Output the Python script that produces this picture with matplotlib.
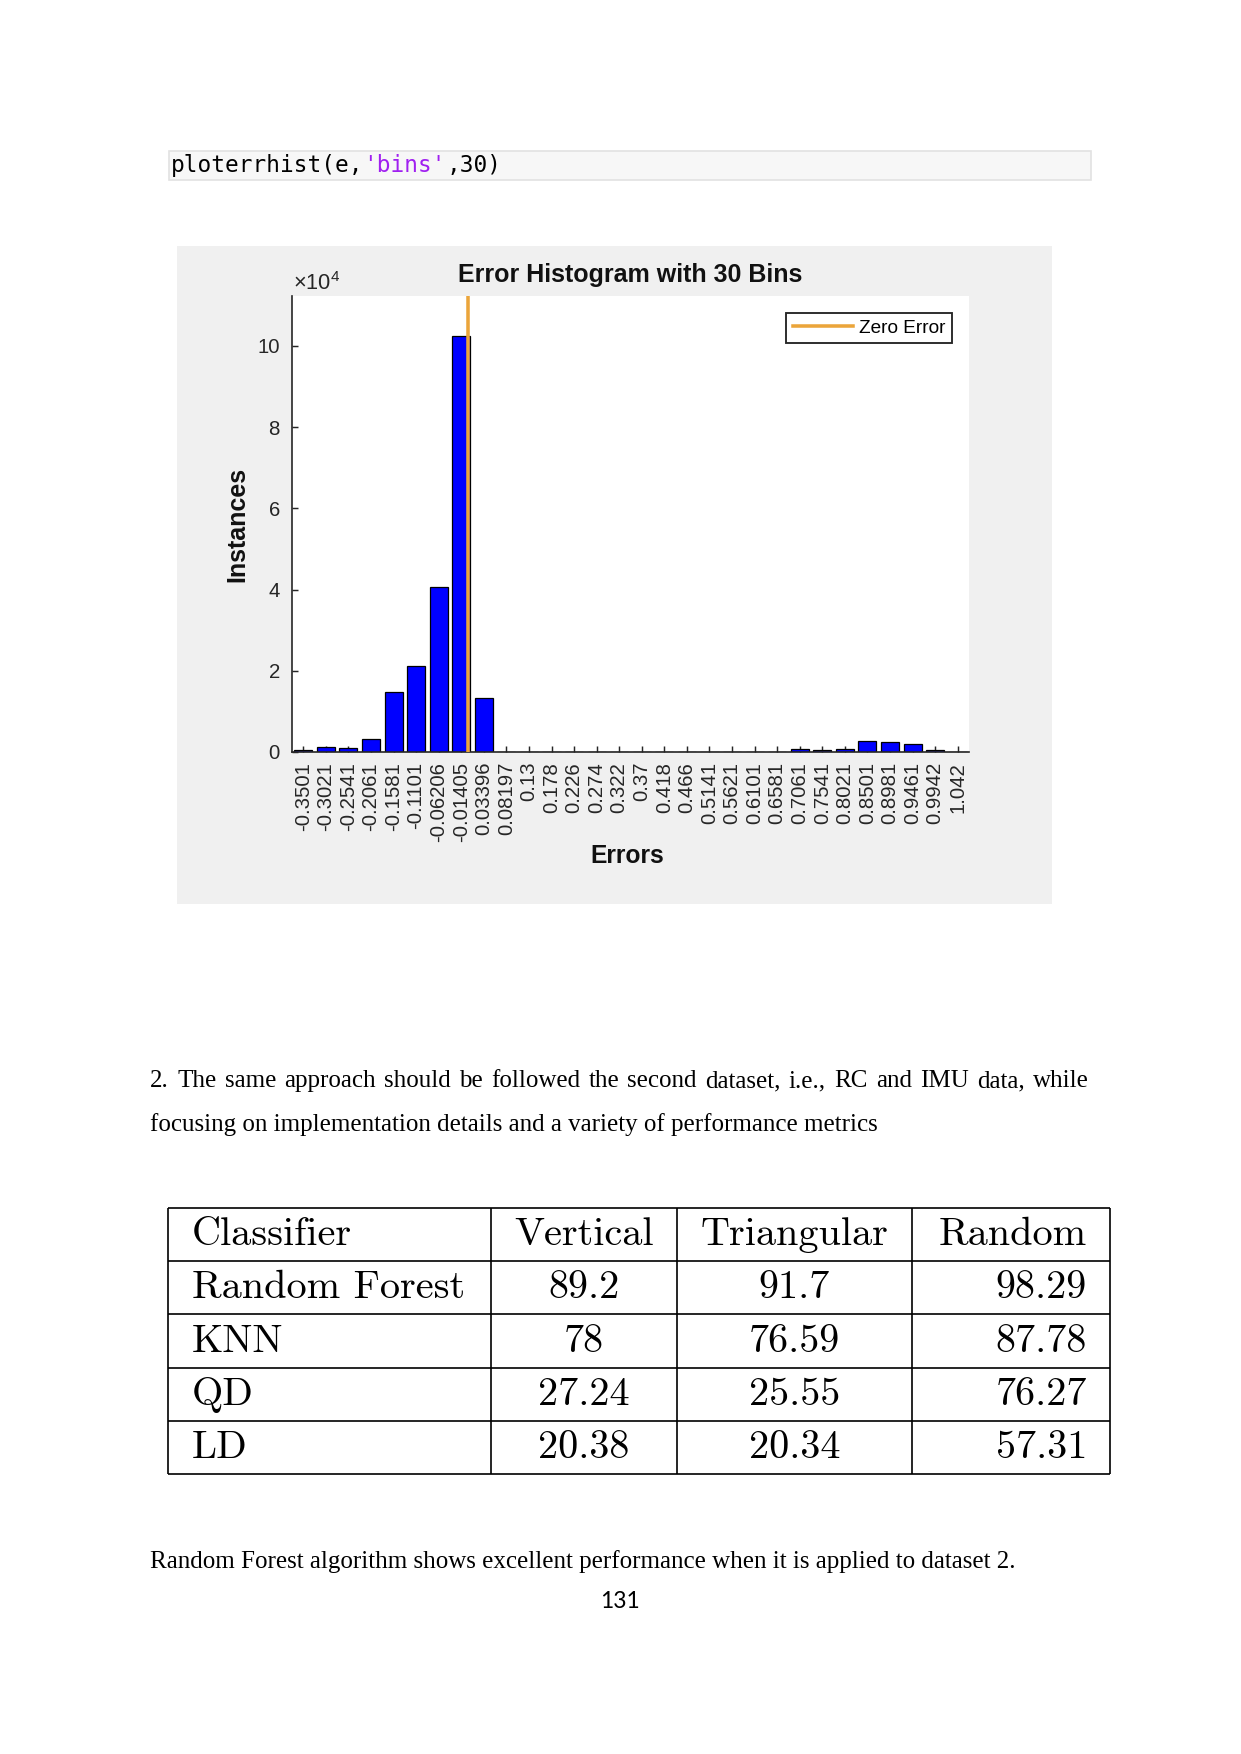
"""
Page 131 — histogramme des erreurs (30 bins) et tableau des classifieurs.
"""

import numpy as np
import matplotlib
matplotlib.use("Agg")
import matplotlib.pyplot as plt
from matplotlib.patches import Rectangle

W, H = 1241, 1754
DPI = 150

# ── Données de l'histogramme ─────────────────────────────────────────────────
bin_centres = ["-0.3501", "-0.3021", "-0.2541", "-0.2061", "-0.1581", "-0.1101",
               "-0.06206", "-0.01405", "0.03396", "0.08197", "0.13", "0.178",
               "0.226", "0.274", "0.322", "0.37", "0.418", "0.466", "0.5141",
               "0.5621", "0.6101", "0.6581", "0.7061", "0.7541", "0.8021",
               "0.8501", "0.8981", "0.9461", "0.9942", "1.042"]
instances = [500, 1300, 900, 3200, 14800, 21300, 40700, 102500, 13300, 0,
             0, 0, 0, 0, 0, 0, 0, 0, 0, 0,
             0, 0, 800, 400, 800, 2800, 2500, 2000, 400, 0]
zero_error = 0.0

# ── Données du tableau ───────────────────────────────────────────────────────
columns = ["Classifier", "Vertical", "Triangular", "Random"]
classifiers = ["Random Forest", "KNN", "QD", "LD"]
vertical = ["89.2", "78", "27.24", "20.38"]
triangular = ["91.7", "76.59", "25.55", "20.34"]
random_layout = ["98.29", "87.78", "76.27", "57.31"]

texte_1 = ("2. The same approach should be followed the second dataset, "
           "i.e., RC and IMU data, while")
texte_2 = "focusing on implementation details and a variety of performance metrics"
texte_3 = ("Random Forest algorithm shows excellent performance when it is "
           "applied to dataset 2.")

plt.rcParams["font.family"] = "Liberation Sans"
plt.rcParams["mathtext.fontset"] = "custom"
plt.rcParams["mathtext.rm"] = "Liberation Sans"

fig = plt.figure(figsize=(W / DPI, H / DPI), dpi=DPI, facecolor="white")

# axe de fond en coordonnées pixels (page entière)
bg = fig.add_axes([0, 0, 1, 1])
bg.set_xlim(0, W)
bg.set_ylim(H, 0)
bg.axis("off")
renderer = fig.canvas.get_renderer()

# ligne de code MATLAB
bg.add_patch(Rectangle((169, 151), 922, 29, facecolor="#F7F7F7",
                       edgecolor="#E2E2E2", linewidth=0.8))
mono = dict(family="DejaVu Sans Mono", fontsize=10.9)
t1 = bg.text(171, 172, "ploterrhist(e,", va="baseline", color="black", **mono)
t2 = bg.annotate("'bins'", xy=(1, 0), xycoords=t1, va="bottom",
                 color="#A020F0", **mono)
bg.annotate(",30)", xy=(1, 0), xycoords=t2, va="bottom", color="black", **mono)

# panneau gris de la figure MATLAB
bg.add_patch(Rectangle((177, 246), 875, 658, facecolor="#F0F0F0",
                       edgecolor="none"))

# ── Histogramme ──────────────────────────────────────────────────────────────
ax = fig.add_axes([292 / W, 1 - 752 / H, 677 / W, 456 / H])
ax.set_facecolor("white")
x = np.arange(len(bin_centres))
centres = np.array([float(c) for c in bin_centres])
zero_x = np.interp(zero_error, centres, x)

ax.bar(x, np.array(instances) / 1e4, width=0.8, color="#0000FF",
       edgecolor="black", linewidth=0.6, zorder=2)
ax.axvline(zero_x, color="#EBA53A", linewidth=1.7, label="Zero Error", zorder=3)

ax.set_xlim(-0.5, len(x) - 0.5)
ax.set_ylim(0, 11.23)
ax.set_xticks(x)
ax.set_xticklabels(bin_centres, rotation=90)
ax.set_yticks([0, 2, 4, 6, 8, 10])
ax.tick_params(direction="in", length=3, width=0.7, colors="#262626",
               labelsize=9.8)
ax.tick_params(axis="x", pad=4.8)
ax.tick_params(axis="y", pad=5.8)
for cote in ["top", "right"]:
    ax.spines[cote].set_visible(False)
for cote in ["left", "bottom"]:
    ax.spines[cote].set_color("#262626")
    ax.spines[cote].set_linewidth(0.8)

ax.text(0.5, 1.046, "Error Histogram with 30 Bins", transform=ax.transAxes,
        ha="center", va="center", fontsize=12, fontweight="bold", color="#111111")
ax.text(0.495, -0.228, "Errors", transform=ax.transAxes, ha="center",
        va="center", fontsize=11.8, fontweight="bold", color="#111111")
ax.text(-0.08, 0.5, "Instances", transform=ax.transAxes, ha="center",
        va="center", rotation=90, fontsize=12, fontweight="bold", color="#111111")
bg.text(293, 290, r"$\times 10^{4}$", fontsize=10.5, va="baseline", color="#262626")

leg = ax.legend(loc="upper right", bbox_to_anchor=(0.975, 0.963), fontsize=9.1,
                frameon=True, fancybox=False, framealpha=1, edgecolor="#262626",
                handlelength=3.2, handletextpad=0.3, borderpad=0.35,
                borderaxespad=0)
leg.get_frame().set_linewidth(0.9)

# ── Paragraphe justifié ──────────────────────────────────────────────────────
serif = dict(family="Liberation Serif", fontsize=12, color="black")


def ligne_justifiee(texte, x0, x1, y):
    mots = texte.split()
    objets = [bg.text(0, y, m, va="baseline", **serif) for m in mots]
    largeurs = [o.get_window_extent(renderer).width for o in objets]
    ecart = (x1 - x0 - sum(largeurs)) / (len(mots) - 1)
    pos = x0
    for o, l in zip(objets, largeurs):
        o.set_x(pos)
        pos += l + ecart


ligne_justifiee(texte_1, 150, 1089, 1087)
bg.text(150, 1131, texte_2, va="baseline", **serif)

# ── Tableau ──────────────────────────────────────────────────────────────────
largeurs_col = [323, 186, 235, 198]
tab = fig.add_axes([168 / W, 1 - 1474 / H, sum(largeurs_col) / W, 266 / H])
tab.set_xlim(0, sum(largeurs_col))
tab.set_ylim(len(classifiers) + 1, 0)
tab.axis("off")
bords = np.concatenate([[0], np.cumsum(largeurs_col)])
tab.vlines(bords, 0, len(classifiers) + 1, color="black", linewidth=0.8,
           clip_on=False)
tab.hlines(np.arange(len(classifiers) + 2), 0, bords[-1], color="black",
           linewidth=0.8, clip_on=False)

lignes = [columns] + [list(r) for r in zip(classifiers, vertical, triangular,
                                            random_layout)]
cm = dict(family="cmr10", fontsize=19.3, color="black", va="baseline")
for i, ligne in enumerate(lignes):
    yb = i + 0.7
    tab.text(bords[0] + 24, yb, ligne[0], ha="left", **cm)
    tab.text((bords[1] + bords[2]) / 2, yb, ligne[1], ha="center", **cm)
    tab.text((bords[2] + bords[3]) / 2, yb, ligne[2], ha="center", **cm)
    tab.text(bords[4] - 23, yb, ligne[3], ha="right", **cm)

bg.text(150, 1568, texte_3, va="baseline", **serif)
bg.text(620, 1608, "131", ha="center", va="baseline", family="Lato",
        fontsize=11, color="black")

fig.savefig("out.png", dpi=DPI)
